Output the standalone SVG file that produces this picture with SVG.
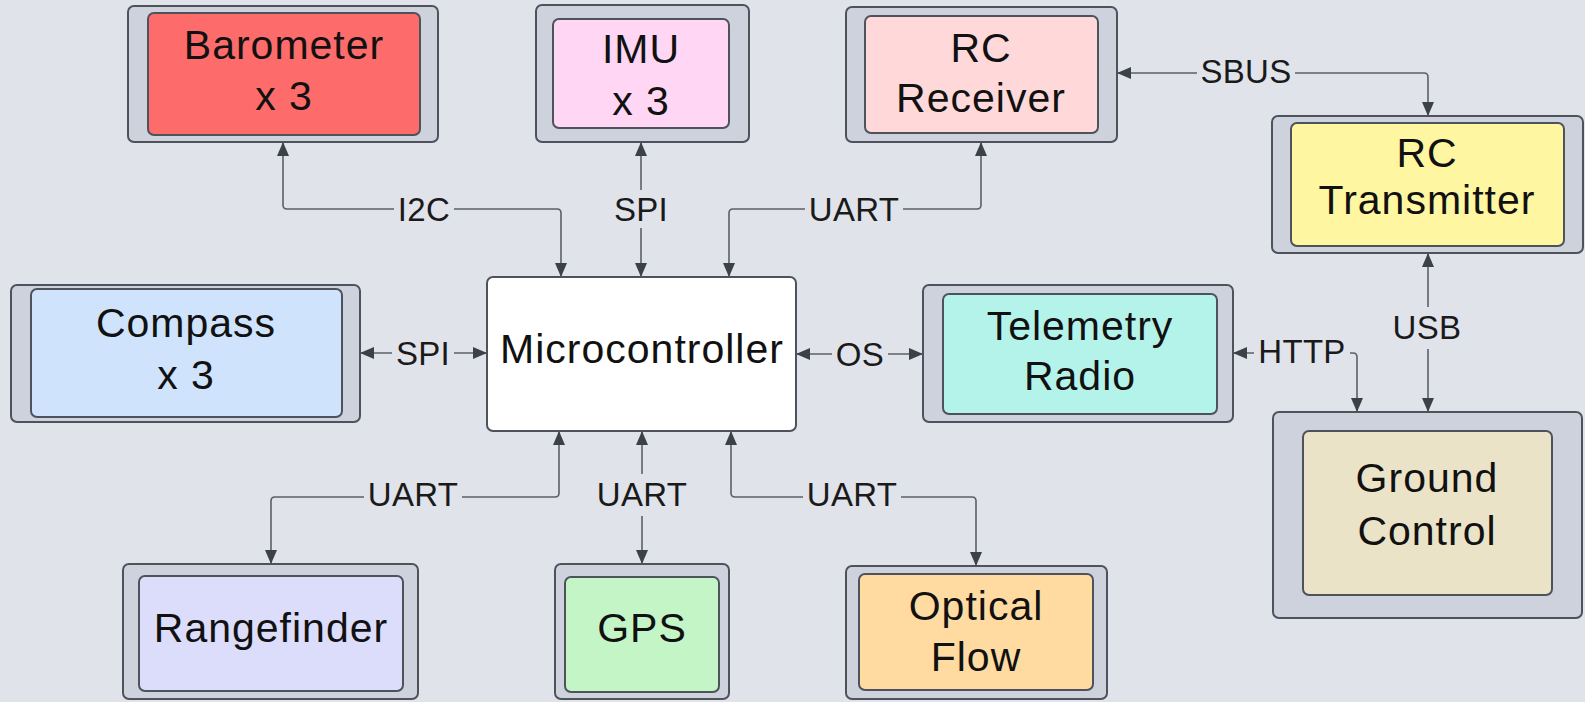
<svg xmlns="http://www.w3.org/2000/svg" width="1585" height="702" viewBox="0 0 1585 702">
<style>
.outer{fill:#cdd2dc;stroke:#4e535b;stroke-width:2}
.inner{stroke:#4e535b;stroke-width:2}
.t{font-family:"Liberation Sans",Arial,sans-serif;font-size:41px;fill:#111;text-anchor:middle;letter-spacing:1px}
.l{font-family:"Liberation Sans",Arial,sans-serif;font-size:33px;fill:#1a1a1a;text-anchor:middle;letter-spacing:0.3px}
.bg{fill:#e1e3eb}
.c{fill:none;stroke:#5b6069;stroke-width:1.6;marker-start:url(#ah);marker-end:url(#ah)}
</style>
<defs>
<marker id="ah" viewBox="0 0 14 12" refX="14" refY="6" markerWidth="14" markerHeight="12" markerUnits="userSpaceOnUse" orient="auto-start-reverse">
<path d="M0,0 L14,6 L0,12 z" fill="#3b4049"/>
</marker>
</defs>
<rect x="0" y="0" width="1585" height="702" fill="#e1e3eb"/>

<g id="connectors">
<path class="c" d="M283,142 V205 Q283,209 287,209 H557 Q561,209 561,213 V277"/>
<path class="c" d="M641,142 V277"/>
<path class="c" d="M729,277 V213 Q729,209 733,209 H977 Q981,209 981,205 V142"/>
<path class="c" d="M1117,73 H1424 Q1428,73 1428,77 V116"/>
<path class="c" d="M360,353 H487"/>
<path class="c" d="M796,354 H923"/>
<path class="c" d="M1233,353 H1353 Q1357,353 1357,357 V412"/>
<path class="c" d="M1428,253 V412"/>
<path class="c" d="M559,431 V493 Q559,497 555,497 H275 Q271,497 271,501 V564"/>
<path class="c" d="M642,431 V564"/>
<path class="c" d="M731,431 V493 Q731,497 735,497 H972 Q976,497 976,501 V566"/>
<rect class="bg" x="394" y="195" width="60" height="28"/>
<text class="l" x="424" y="221">I2C</text>
<rect class="bg" x="610" y="190" width="62" height="38"/>
<text class="l" x="641" y="221">SPI</text>
<rect class="bg" x="805" y="195" width="98" height="28"/>
<text class="l" x="854" y="221">UART</text>
<rect class="bg" x="1197" y="58" width="98" height="28"/>
<text class="l" x="1246" y="83">SBUS</text>
<rect class="bg" x="392" y="339" width="62" height="28"/>
<text class="l" x="423" y="365">SPI</text>
<rect class="bg" x="832" y="340" width="56" height="28"/>
<text class="l" x="860" y="366">OS</text>
<rect class="bg" x="1254" y="337" width="96" height="28"/>
<text class="l" x="1302" y="363">HTTP</text>
<rect class="bg" x="1389" y="307" width="76" height="42"/>
<text class="l" x="1427" y="339">USB</text>
<rect class="bg" x="364" y="481" width="98" height="28"/>
<text class="l" x="413" y="506">UART</text>
<rect class="bg" x="593" y="474" width="98" height="42"/>
<text class="l" x="642" y="506">UART</text>
<rect class="bg" x="803" y="481" width="98" height="28"/>
<text class="l" x="852" y="506">UART</text>
</g>

<g id="barometer">
<rect class="outer" x="128" y="6" width="310" height="136" rx="6"/>
<rect class="inner" x="148" y="13" width="272" height="122" rx="6" fill="#fd6b6a"/>
<text class="t" x="284" y="59">Barometer</text>
<text class="t" x="284" y="110">x 3</text>
</g>

<g id="imu">
<rect class="outer" x="536" y="5" width="213" height="137" rx="6"/>
<rect class="inner" x="553" y="19" width="176" height="109" rx="6" fill="#ffd6f4"/>
<text class="t" x="641" y="63">IMU</text>
<text class="t" x="641" y="115">x 3</text>
</g>

<g id="rc-receiver">
<rect class="outer" x="846" y="7" width="271" height="135" rx="6"/>
<rect class="inner" x="865" y="16" width="233" height="117" rx="6" fill="#ffd9d9"/>
<text class="t" x="981" y="62">RC</text>
<text class="t" x="981" y="112">Receiver</text>
</g>

<g id="rc-transmitter">
<rect class="outer" x="1272" y="116" width="311" height="137" rx="6"/>
<rect class="inner" x="1291" y="123" width="273" height="123" rx="6" fill="#fff6a2"/>
<text class="t" x="1427" y="167">RC</text>
<text class="t" x="1427" y="214">Transmitter</text>
</g>

<g id="compass">
<rect class="outer" x="11" y="285" width="349" height="137" rx="6"/>
<rect class="inner" x="31" y="289" width="311" height="128" rx="6" fill="#cfe3fd"/>
<text class="t" x="186" y="337">Compass</text>
<text class="t" x="186" y="389">x 3</text>
</g>

<g id="microcontroller">
<rect x="487" y="277" width="309" height="154" rx="6" fill="#ffffff" stroke="#4e535b" stroke-width="2"/>
<text class="t" x="642" y="363">Microcontroller</text>
</g>

<g id="telemetry-radio">
<rect class="outer" x="923" y="285" width="310" height="137" rx="6"/>
<rect class="inner" x="943" y="294" width="274" height="120" rx="6" fill="#b4f3ea"/>
<text class="t" x="1080" y="340">Telemetry</text>
<text class="t" x="1080" y="390">Radio</text>
</g>

<g id="ground-control">
<rect class="outer" x="1273" y="412" width="309" height="206" rx="6"/>
<rect class="inner" x="1303" y="431" width="249" height="164" rx="6" fill="#ebe3c8"/>
<text class="t" x="1427" y="492">Ground</text>
<text class="t" x="1427" y="545">Control</text>
</g>

<g id="rangefinder">
<rect class="outer" x="123" y="564" width="295" height="135" rx="6"/>
<rect class="inner" x="139" y="576" width="264" height="115" rx="6" fill="#dcdcfb"/>
<text class="t" x="271" y="642">Rangefinder</text>
</g>

<g id="gps">
<rect class="outer" x="555" y="564" width="174" height="135" rx="6"/>
<rect class="inner" x="565" y="577" width="154" height="115" rx="6" fill="#c3f5c6"/>
<text class="t" x="642" y="642">GPS</text>
</g>

<g id="optical-flow">
<rect class="outer" x="846" y="566" width="261" height="133" rx="6"/>
<rect class="inner" x="859" y="574" width="234" height="116" rx="6" fill="#ffdba2"/>
<text class="t" x="976" y="620">Optical</text>
<text class="t" x="976" y="671">Flow</text>
</g>
</svg>
